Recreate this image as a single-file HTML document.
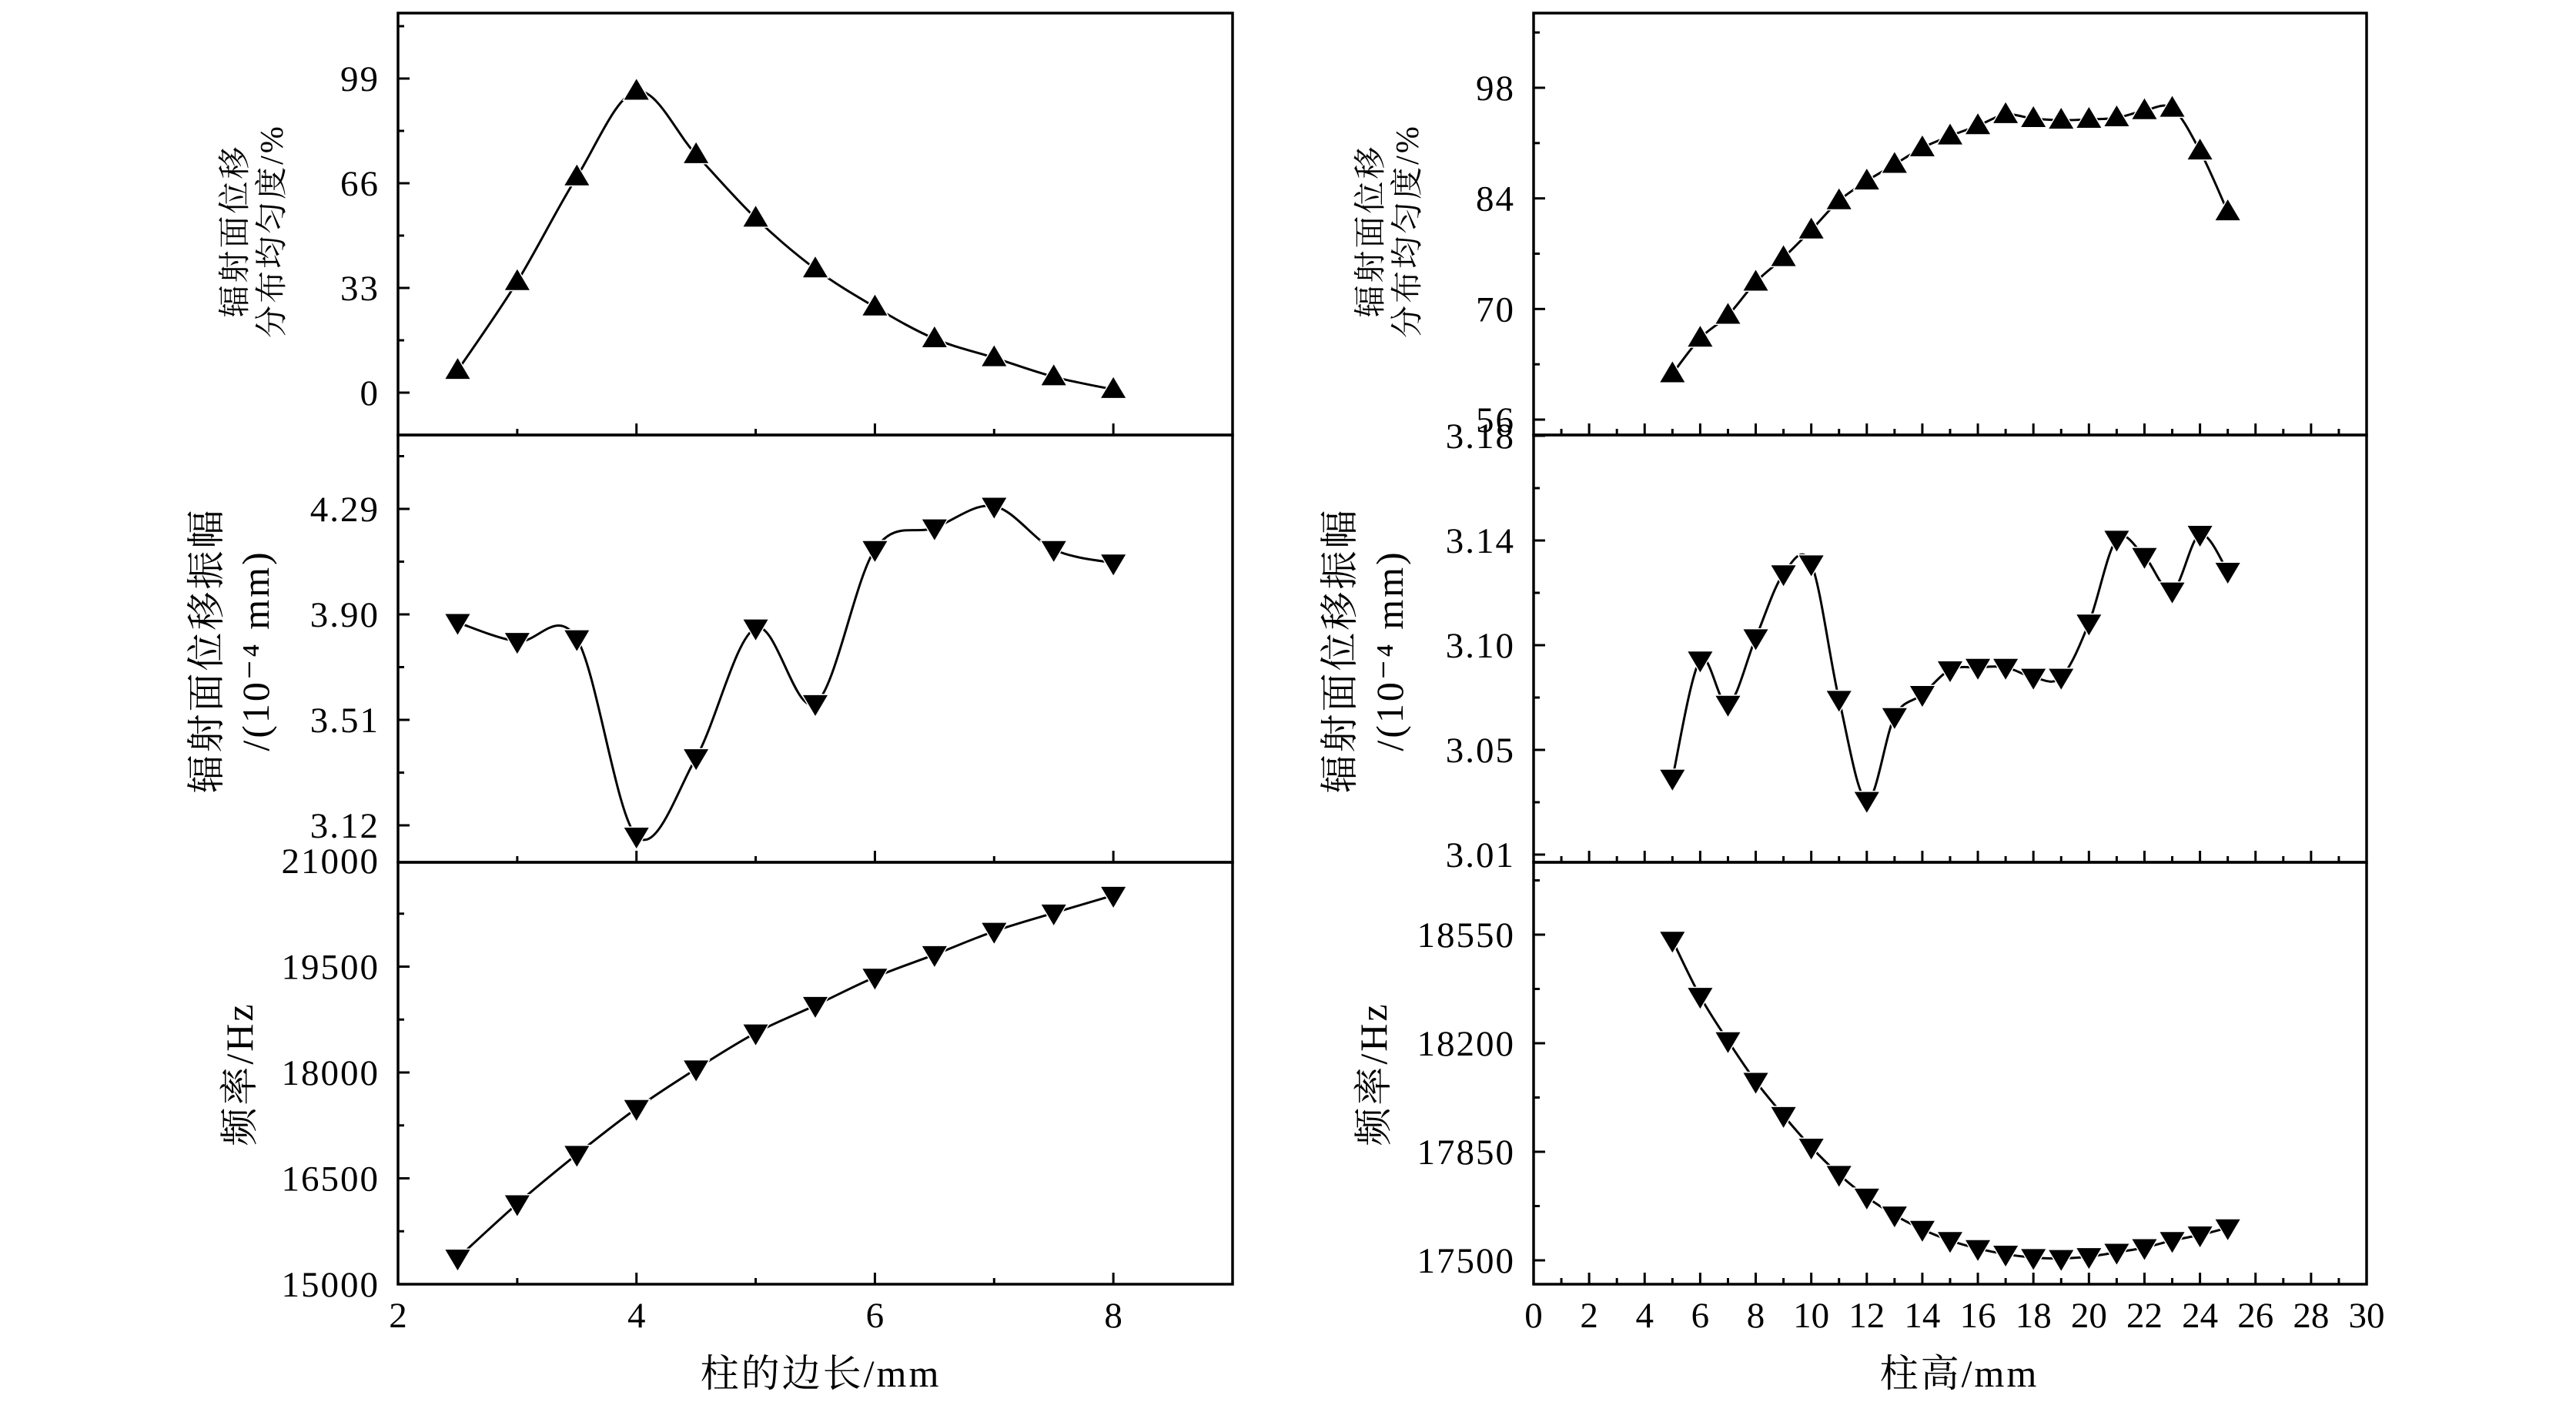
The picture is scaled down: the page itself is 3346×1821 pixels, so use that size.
<!DOCTYPE html>
<html><head><meta charset="utf-8"><style>
html,body{margin:0;padding:0;background:#fff;}
svg{display:block;}
text{font-family:"Liberation Serif","Noto Serif CJK SC",serif;fill:#000;}
</style></head><body>
<svg id="fig" xmlns="http://www.w3.org/2000/svg" width="3346" height="1821" viewBox="0 0 3346 1821"></svg>
<script>
// ---- data ----
const xLeft = [2.5,3,3.5,4,4.5,5,5.5,6,6.5,7,7.5,8];
const uniformLeft = [7,35,68,95,75,55,39,27,17,11,5,1];
const ampLeft = [3.87,3.80,3.81,3.08,3.37,3.85,3.57,4.14,4.22,4.30,4.14,4.09];
const freqLeft = [15370,16140,16840,17490,18050,18560,18950,19350,19670,20000,20260,20510];
const xRight = [5,6,7,8,9,10,11,12,13,14,15,16,17,18,19,20,21,22,23,24,25];
const uniformRight = [61.8,66.3,69.2,73.4,76.5,80,83.7,86.2,88.3,90.4,91.9,93.2,94.6,94.1,93.9,94,94.2,95.1,95.4,90,82.3];
const ampRight = [3.041,3.089,3.071,3.098,3.124,3.128,3.073,3.032,3.066,3.075,3.085,3.086,3.086,3.082,3.082,3.104,3.138,3.131,3.117,3.140,3.125];
const freqRight = [18532,18351,18208,18077,17967,17865,17777,17704,17646,17600,17564,17538,17520,17509,17506,17512,17526,17541,17564,17582,17605];
const xTicksLeft = [2,4,6,8];
const xTicksRight = [0,2,4,6,8,10,12,14,16,18,20,22,24,26,28,30];
const yTicksLT = [0,33,66,99];
const yTicksLM = [3.12,3.51,3.90,4.29];
const yTicksLB = [15000,16500,18000,19500,21000];
const yTicksRT = [56,70,84,98];
const yTicksRM = [3.01,3.0525,3.095,3.1375,3.18];
const yTickLabelsRM = ["3.01","3.05","3.10","3.14","3.18"];
const yTicksRB = [17500,17850,18200,18550];

const NS="http://www.w3.org/2000/svg";
const svg=document.getElementById('fig');
function el(tag,attrs,parent){const e=document.createElementNS(NS,tag);for(const k in attrs)e.setAttribute(k,attrs[k]);(parent||svg).appendChild(e);return e;}
function lin(d0,d1,r0,r1){return v=>r0+(v-d0)/(d1-d0)*(r1-r0);}

const L={x0:517,x1:1601,xd0:2,xd1:9};
const R={x0:1992,x1:3074,xd0:0,xd1:30};
const rows=[{top:17,bot:565},{top:565,bot:1120},{top:1120,bot:1668}];

function smoothPath(pts){
  let d=`M${pts[0][0]},${pts[0][1]}`;
  for(let i=0;i<pts.length-1;i++){
    const p0=pts[i-1]||pts[i],p1=pts[i],p2=pts[i+1],p3=pts[i+2]||p2;
    const c1=[p1[0]+(p2[0]-p0[0])/6,p1[1]+(p2[1]-p0[1])/6];
    const c2=[p2[0]-(p3[0]-p1[0])/6,p2[1]-(p3[1]-p1[1])/6];
    d+=` C${c1[0]},${c1[1]} ${c2[0]},${c2[1]} ${p2[0]},${p2[1]}`;
  }
  return d;
}

function panel(name,col,row,yMap,yTicks,yLabels,yMinorStep,xs,ys,up,xMinor){
  const g=el('g',{});
  
  
  const xm=lin(col.xd0,col.xd1,col.x0,col.x1);
  const r=rows[row];
  const allY=[];
  for(let i=0;i<yTicks.length;i++){allY.push([yTicks[i],15]);if(i<yTicks.length-1)allY.push([yTicks[i]+yMinorStep,8]);}
  allY.push([yTicks[0]-yMinorStep,8]);allY.push([yTicks[yTicks.length-1]+yMinorStep,8]);
  allY.forEach(([v,len])=>{const y=yMap(v);if(y<r.top-1||y>r.bot+1)return;const t=el('line',{x1:col.x0,x2:col.x0+len,y1:y,y2:y,stroke:'#000','stroke-width':3},g);});
  yTicks.forEach((v,i)=>{const t=el('text',{x:col.x0-24,y:yMap(v)+16,'font-size':47,'text-anchor':'end','letter-spacing':2},g);t.textContent=yLabels[i];});
  for(let v=col.xd0;v<=col.xd1;v+=xMinor){const major=Math.abs(v/(xMinor*2)-Math.round(v/(xMinor*2)))<1e-6;const x=xm(v);const t=el('line',{x1:x,x2:x,y1:r.bot,y2:r.bot-(major?15:8),stroke:'#000','stroke-width':3},g);}
  const f=el('rect',{x:col.x0,y:r.top,width:col.x1-col.x0,height:r.bot-r.top,fill:'none',stroke:'#000','stroke-width':3.5},g);
  
  const pts=xs.map((x,i)=>[xm(x),yMap(ys[i])]);
  const p=el('path',{d:smoothPath(pts),fill:'none',stroke:'#000','stroke-width':3},g);
  
  pts.forEach(([x,y])=>{
    const d=up?`M${x-16},${y+11} L${x+16},${y+11} L${x},${y-16} Z`:`M${x-16},${y-11} L${x+16},${y-11} L${x},${y+16} Z`;
    const m=el('path',{d:d,fill:'#000',stroke:'#fff','stroke-width':3,'paint-order':'stroke'},g);
    
  });
}

const fmt=a=>a.map(v=>String(v));
const fmt2=a=>a.map(v=>v.toFixed(2));
panel('uniformity-vs-side-panel',L,0,lin(0,99,510,102),yTicksLT,fmt(yTicksLT),16.5,xLeft,uniformLeft,true,1);
panel('amplitude-vs-side-panel',L,1,lin(3.12,4.29,1072,661),yTicksLM,fmt2(yTicksLM),0.195,xLeft,ampLeft,false,1);
panel('frequency-vs-side-panel',L,2,lin(15000,21000,1668,1118),yTicksLB,fmt(yTicksLB),750,xLeft,freqLeft,false,1);
panel('uniformity-vs-height-panel',R,0,lin(56,98,545,114),yTicksRT,fmt(yTicksRT),7,xRight,uniformRight,true,1);
panel('amplitude-vs-height-panel',R,1,lin(3.01,3.18,1110,566),yTicksRM,yTickLabelsRM,0.02125,xRight,ampRight,false,1);
panel('frequency-vs-height-panel',R,2,lin(17500,18550,1637,1214),yTicksRB,fmt(yTicksRB),175,xRight,freqRight,false,1);

const xmL=lin(L.xd0,L.xd1,L.x0,L.x1), xmR=lin(R.xd0,R.xd1,R.x0,R.x1);
xTicksLeft.forEach(v=>{const t=el('text',{x:xmL(v),y:1724,'font-size':47,'text-anchor':'middle'});t.textContent=v;});
xTicksRight.forEach(v=>{const t=el('text',{x:xmR(v),y:1724,'font-size':47,'text-anchor':'middle'});t.textContent=v;});

function title(txt,x,y,rot,name,fs){const t=el('text',{x:x,y:y,'font-size':fs||50,'letter-spacing':3,'text-anchor':'middle','dominant-baseline':'central',transform:rot?`rotate(-90 ${x} ${y})`:''});t.textContent=txt;return t;}
title('柱的边长/mm',1066,1784,false,'x-axis-title-left');
title('柱高/mm',2545,1784,false,'x-axis-title-right');
title('辐射面位移',306,300,true,'y-axis-title-uniformity-left-line1',42);
title('分布均匀度/%',354,300,true,'y-axis-title-uniformity-left-line2',42);
title('辐射面位移振幅',268,845,true,'y-axis-title-amplitude-left-line1');
title('/(10⁻⁴ mm)',332,845,true,'y-axis-title-amplitude-left-line2');
title('频率/Hz',311,1395,true,'y-axis-title-frequency-left');
title('辐射面位移',1781,300,true,'y-axis-title-uniformity-right-line1',42);
title('分布均匀度/%',1829,300,true,'y-axis-title-uniformity-right-line2',42);
title('辐射面位移振幅',1740,845,true,'y-axis-title-amplitude-right-line1');
title('/(10⁻⁴ mm)',1805,845,true,'y-axis-title-amplitude-right-line2');
title('频率/Hz',1784,1395,true,'y-axis-title-frequency-right');
</script>
</body></html>
